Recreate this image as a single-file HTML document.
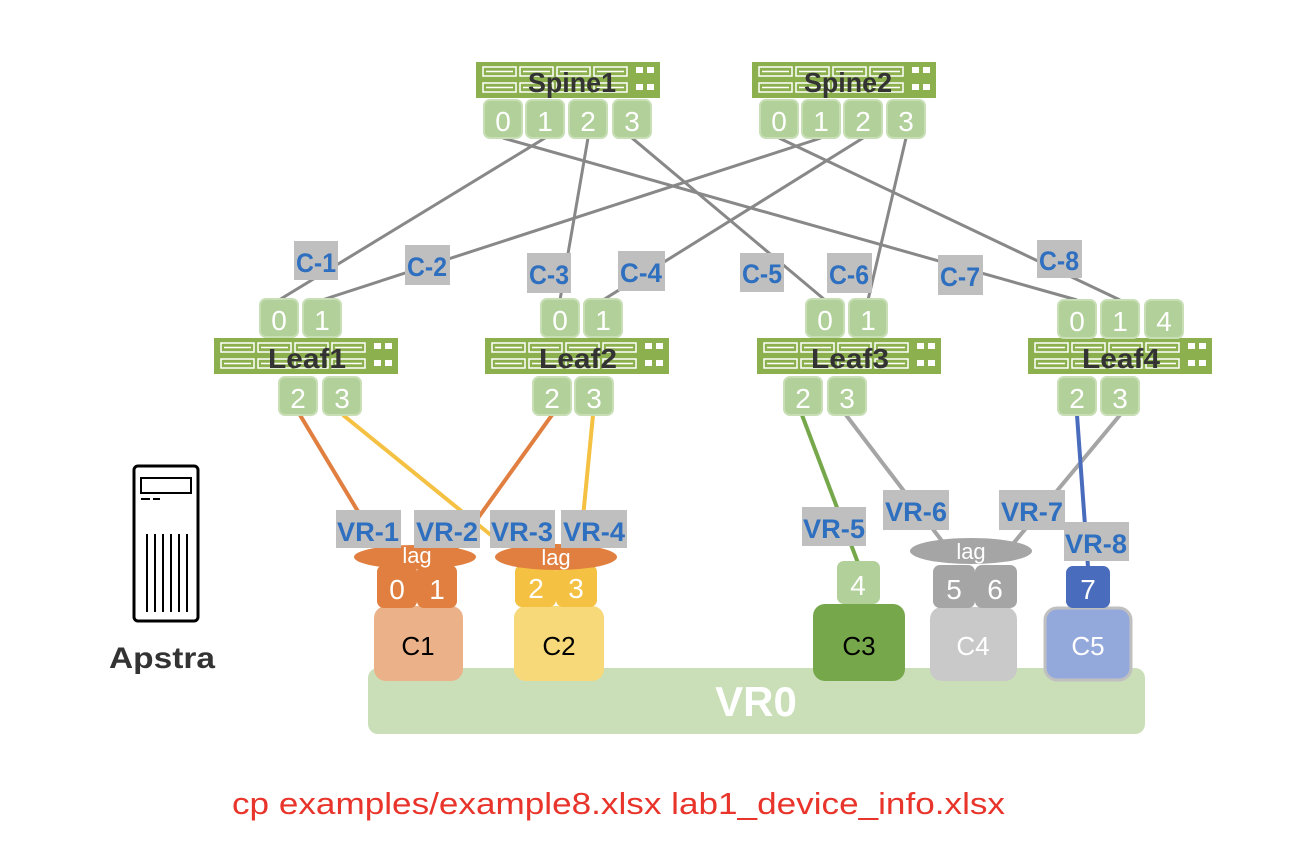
<!DOCTYPE html>
<html><head><meta charset="utf-8"><style>
html,body{margin:0;padding:0;background:#fff;}
svg{display:block;}
.pt{fill:#B2D09A;stroke:#C8DFB6;stroke-width:2;}
.pn{fill:#fff;font-family:"Liberation Sans",sans-serif;font-size:28px;text-anchor:middle;}
.lb{fill:#BFBFBF;}
.lt{fill:#2E6FC0;font-family:"Liberation Sans",sans-serif;font-weight:bold;font-size:27px;text-anchor:middle;}
.sw{fill:#333;font-family:"Liberation Sans",sans-serif;font-weight:bold;font-size:28px;text-anchor:middle;}
</style></head><body>
<svg width="1290" height="864" viewBox="0 0 1290 864" xmlns="http://www.w3.org/2000/svg">
<defs>
<g id="bar">
<rect x="0" y="0" width="184" height="36" fill="#8DB04F"/>
<g fill="none" stroke="#fff" stroke-width="1.5">
<rect x="7" y="5" width="33" height="9"/><rect x="44" y="5" width="33" height="9"/><rect x="81" y="5" width="33" height="9"/><rect x="118" y="5" width="33" height="9"/>
<rect x="7" y="21" width="33" height="9"/><rect x="44" y="21" width="33" height="9"/><rect x="81" y="21" width="33" height="9"/><rect x="118" y="21" width="33" height="9"/>
<line x1="10" y1="9.5" x2="37" y2="9.5"/><line x1="47" y1="9.5" x2="74" y2="9.5"/><line x1="84" y1="9.5" x2="111" y2="9.5"/><line x1="121" y1="9.5" x2="148" y2="9.5"/>
<line x1="10" y1="25.5" x2="37" y2="25.5"/><line x1="47" y1="25.5" x2="74" y2="25.5"/><line x1="84" y1="25.5" x2="111" y2="25.5"/><line x1="121" y1="25.5" x2="148" y2="25.5"/>
</g>
<g fill="#fff"><rect x="160" y="5" width="7" height="6"/><rect x="171" y="5" width="7" height="6"/><rect x="160" y="22" width="7" height="6"/><rect x="171" y="22" width="7" height="6"/></g>
</g>
</defs>

<g stroke="#888" stroke-width="3">
<line x1="545" y1="138" x2="279" y2="300"/>
<line x1="821" y1="138" x2="322" y2="300"/>
<line x1="588" y1="138" x2="560" y2="300"/>
<line x1="863" y1="138" x2="603" y2="300"/>
<line x1="632" y1="138" x2="825" y2="300"/>
<line x1="906" y1="138" x2="868" y2="300"/>
<line x1="503" y1="138" x2="1077" y2="300"/>
<line x1="779" y1="138" x2="1120" y2="300"/>
</g>
<g stroke-width="4">
<line x1="300" y1="415" x2="380" y2="548" stroke="#E07F3F"/>
<line x1="343" y1="415" x2="497" y2="540" stroke="#F4C142"/>
<line x1="552" y1="415" x2="455" y2="550" stroke="#E07F3F"/>
<line x1="593" y1="415" x2="580" y2="548" stroke="#F4C142"/>
<line x1="802" y1="415" x2="858" y2="563" stroke="#76A84B"/>
<line x1="846" y1="415" x2="945" y2="545" stroke="#A5A5A5"/>
<line x1="1120" y1="415" x2="1012" y2="545" stroke="#A5A5A5"/>
<line x1="1077" y1="415" x2="1088" y2="567" stroke="#4A6CBD"/>
</g>

<use href="#bar" x="476" y="62"/>
<text class="sw" x="572" y="92" textLength="88" lengthAdjust="spacingAndGlyphs">Spine1</text>
<use href="#bar" x="752" y="62"/>
<text class="sw" x="848" y="92" textLength="88" lengthAdjust="spacingAndGlyphs">Spine2</text>
<g>
<rect class="pt" x="484" y="100" width="38" height="38" rx="6"/><text class="pn" x="503" y="131">0</text>
<rect class="pt" x="526" y="100" width="38" height="38" rx="6"/><text class="pn" x="545" y="131">1</text>
<rect class="pt" x="569" y="100" width="38" height="38" rx="6"/><text class="pn" x="588" y="131">2</text>
<rect class="pt" x="613" y="100" width="38" height="38" rx="6"/><text class="pn" x="632" y="131">3</text>
<rect class="pt" x="760" y="100" width="38" height="38" rx="6"/><text class="pn" x="779" y="131">0</text>
<rect class="pt" x="802" y="100" width="38" height="38" rx="6"/><text class="pn" x="821" y="131">1</text>
<rect class="pt" x="844" y="100" width="38" height="38" rx="6"/><text class="pn" x="863" y="131">2</text>
<rect class="pt" x="887" y="100" width="38" height="38" rx="6"/><text class="pn" x="906" y="131">3</text>
</g>

<use href="#bar" x="214" y="338"/><text class="sw" x="307" y="368" textLength="78" lengthAdjust="spacingAndGlyphs">Leaf1</text>
<use href="#bar" x="485" y="338"/><text class="sw" x="578" y="368" textLength="78" lengthAdjust="spacingAndGlyphs">Leaf2</text>
<use href="#bar" x="757" y="338"/><text class="sw" x="850" y="368" textLength="78" lengthAdjust="spacingAndGlyphs">Leaf3</text>
<use href="#bar" x="1028" y="338"/><text class="sw" x="1121" y="368" textLength="78" lengthAdjust="spacingAndGlyphs">Leaf4</text>
<g>
<rect class="pt" x="260" y="299" width="38" height="38" rx="6"/><text class="pn" x="279" y="330">0</text>
<rect class="pt" x="303" y="299" width="38" height="38" rx="6"/><text class="pn" x="322" y="330">1</text>
<rect class="pt" x="279" y="377" width="38" height="38" rx="6"/><text class="pn" x="298" y="408">2</text>
<rect class="pt" x="323" y="377" width="38" height="38" rx="6"/><text class="pn" x="342" y="408">3</text>

<rect class="pt" x="541" y="299" width="38" height="38" rx="6"/><text class="pn" x="560" y="330">0</text>
<rect class="pt" x="584" y="299" width="38" height="38" rx="6"/><text class="pn" x="603" y="330">1</text>
<rect class="pt" x="533" y="377" width="38" height="38" rx="6"/><text class="pn" x="552" y="408">2</text>
<rect class="pt" x="575" y="377" width="38" height="38" rx="6"/><text class="pn" x="594" y="408">3</text>

<rect class="pt" x="806" y="299" width="38" height="38" rx="6"/><text class="pn" x="825" y="330">0</text>
<rect class="pt" x="849" y="299" width="38" height="38" rx="6"/><text class="pn" x="868" y="330">1</text>
<rect class="pt" x="784" y="377" width="38" height="38" rx="6"/><text class="pn" x="803" y="408">2</text>
<rect class="pt" x="828" y="377" width="38" height="38" rx="6"/><text class="pn" x="847" y="408">3</text>

<rect class="pt" x="1058" y="300" width="38" height="38" rx="6"/><text class="pn" x="1077" y="331">0</text>
<rect class="pt" x="1101" y="300" width="38" height="38" rx="6"/><text class="pn" x="1120" y="331">1</text>
<rect class="pt" x="1145" y="300" width="38" height="38" rx="6"/><text class="pn" x="1164" y="331">4</text>
<rect class="pt" x="1058" y="377" width="38" height="38" rx="6"/><text class="pn" x="1077" y="408">2</text>
<rect class="pt" x="1101" y="377" width="38" height="38" rx="6"/><text class="pn" x="1120" y="408">3</text>
</g>

<g>
<rect class="lb" x="294" y="241" width="44" height="39"/><text class="lt" x="316" y="272" textLength="40" lengthAdjust="spacingAndGlyphs">C-1</text>
<rect class="lb" x="405" y="245" width="45" height="40"/><text class="lt" x="427" y="276" textLength="40" lengthAdjust="spacingAndGlyphs">C-2</text>
<rect class="lb" x="527" y="253" width="44" height="40"/><text class="lt" x="549" y="284" textLength="40" lengthAdjust="spacingAndGlyphs">C-3</text>
<rect class="lb" x="618" y="251" width="47" height="40"/><text class="lt" x="641" y="282" textLength="42" lengthAdjust="spacingAndGlyphs">C-4</text>
<rect class="lb" x="740" y="253" width="44" height="39"/><text class="lt" x="762" y="283" textLength="40" lengthAdjust="spacingAndGlyphs">C-5</text>
<rect class="lb" x="827" y="253" width="45" height="40"/><text class="lt" x="849" y="284" textLength="40" lengthAdjust="spacingAndGlyphs">C-6</text>
<rect class="lb" x="938" y="255" width="45" height="40"/><text class="lt" x="960" y="286" textLength="40" lengthAdjust="spacingAndGlyphs">C-7</text>
<rect class="lb" x="1037" y="240" width="45" height="38"/><text class="lt" x="1059" y="270" textLength="40" lengthAdjust="spacingAndGlyphs">C-8</text>
</g>

<rect x="368" y="668" width="777" height="66" rx="10" fill="#CADFB8"/>
<text x="756" y="716" fill="#fff" font-family="Liberation Sans, sans-serif" font-weight="bold" font-size="42" text-anchor="middle">VR0</text>

<rect x="374" y="606" width="89" height="75" rx="12" fill="#EBB189"/>
<text x="418" y="655" font-family="Liberation Sans, sans-serif" font-size="26" text-anchor="middle" fill="#000">C1</text>
<rect x="514" y="606" width="90" height="75" rx="12" fill="#F7D97A"/>
<text x="559" y="655" font-family="Liberation Sans, sans-serif" font-size="26" text-anchor="middle" fill="#000">C2</text>
<rect x="813" y="604" width="92" height="77" rx="12" fill="#76A84B"/>
<text x="859" y="655" font-family="Liberation Sans, sans-serif" font-size="26" text-anchor="middle" fill="#000">C3</text>
<rect x="930" y="607" width="87" height="74" rx="12" fill="#C9C9C9"/>
<text x="973" y="655" font-family="Liberation Sans, sans-serif" font-size="26" text-anchor="middle" fill="#fff">C4</text>
<rect x="1045" y="608" width="86" height="72" rx="12" fill="#94A9DB" stroke="#C0C0C0" stroke-width="3"/>
<text x="1088" y="655" font-family="Liberation Sans, sans-serif" font-size="26" text-anchor="middle" fill="#fff">C5</text>

<rect x="377" y="565" width="40" height="43" rx="7" fill="#E07F3F"/><text class="pn" x="397" y="599">0</text>
<rect x="417" y="565" width="40" height="43" rx="7" fill="#E07F3F"/><text class="pn" x="437" y="599">1</text>
<rect x="515" y="565" width="41" height="42" rx="7" fill="#F4C142"/><text class="pn" x="536" y="598">2</text>
<rect x="556" y="565" width="41" height="42" rx="7" fill="#F4C142"/><text class="pn" x="576" y="598">3</text>
<rect x="837" y="561" width="43" height="43" rx="7" fill="#B2D09A"/><text class="pn" x="858" y="595">4</text>
<rect x="933" y="565" width="42" height="43" rx="7" fill="#A5A5A5"/><text class="pn" x="954" y="599">5</text>
<rect x="975" y="565" width="42" height="43" rx="7" fill="#A5A5A5"/><text class="pn" x="995" y="599">6</text>
<rect x="1066" y="566" width="44" height="42" rx="7" fill="#4A6CBD"/><text class="pn" x="1088" y="599">7</text>

<ellipse cx="415" cy="557" rx="61" ry="12" fill="#E07F3F"/>
<text x="417" y="563" fill="#fff" font-family="Liberation Sans, sans-serif" font-size="22" text-anchor="middle">lag</text>
<ellipse cx="556" cy="557" rx="61" ry="13" fill="#E07F3F"/>
<text x="556" y="565" fill="#fff" font-family="Liberation Sans, sans-serif" font-size="22" text-anchor="middle">lag</text>
<ellipse cx="971" cy="551" rx="61" ry="13" fill="#A5A5A5"/>
<text x="971" y="559" fill="#fff" font-family="Liberation Sans, sans-serif" font-size="22" text-anchor="middle">lag</text>

<g>
<rect class="lb" x="336" y="510" width="65" height="38"/><text class="lt" x="368" y="541" textLength="62" lengthAdjust="spacingAndGlyphs">VR-1</text>
<rect class="lb" x="414" y="510" width="66" height="38"/><text class="lt" x="447" y="541" textLength="62" lengthAdjust="spacingAndGlyphs">VR-2</text>
<rect class="lb" x="490" y="510" width="65" height="38"/><text class="lt" x="522" y="541" textLength="62" lengthAdjust="spacingAndGlyphs">VR-3</text>
<rect class="lb" x="561" y="510" width="66" height="38"/><text class="lt" x="594" y="541" textLength="62" lengthAdjust="spacingAndGlyphs">VR-4</text>
<rect class="lb" x="802" y="507" width="64" height="39"/><text class="lt" x="834" y="538" textLength="62" lengthAdjust="spacingAndGlyphs">VR-5</text>
<rect class="lb" x="883" y="490" width="66" height="40"/><text class="lt" x="916" y="521" textLength="62" lengthAdjust="spacingAndGlyphs">VR-6</text>
<rect class="lb" x="999" y="490" width="66" height="40"/><text class="lt" x="1032" y="521" textLength="62" lengthAdjust="spacingAndGlyphs">VR-7</text>
<rect class="lb" x="1064" y="522" width="65" height="39"/><text class="lt" x="1096" y="553" textLength="62" lengthAdjust="spacingAndGlyphs">VR-8</text>
</g>

<rect x="134" y="466" width="64" height="155" rx="4" fill="none" stroke="#000" stroke-width="3"/>
<rect x="141" y="478" width="50" height="15" fill="none" stroke="#000" stroke-width="2"/>
<line x1="141" y1="499" x2="150" y2="499" stroke="#000" stroke-width="2"/>
<line x1="153" y1="499" x2="160" y2="499" stroke="#000" stroke-width="2"/>
<g stroke="#000" stroke-width="2">
<line x1="147" y1="534" x2="147" y2="612"/><line x1="155" y1="534" x2="155" y2="612"/><line x1="163" y1="534" x2="163" y2="612"/><line x1="171" y1="534" x2="171" y2="612"/><line x1="179" y1="534" x2="179" y2="612"/><line x1="187" y1="534" x2="187" y2="612"/>
</g>
<text x="162" y="668" fill="#333" font-family="Liberation Sans, sans-serif" font-weight="bold" font-size="30" text-anchor="middle" textLength="106" lengthAdjust="spacingAndGlyphs">Apstra</text>

<text x="232" y="814" fill="#E8342A" font-family="Liberation Sans, sans-serif" font-size="31" textLength="773" lengthAdjust="spacingAndGlyphs">cp examples/example8.xlsx lab1_device_info.xlsx</text>
</svg>
</body></html>
